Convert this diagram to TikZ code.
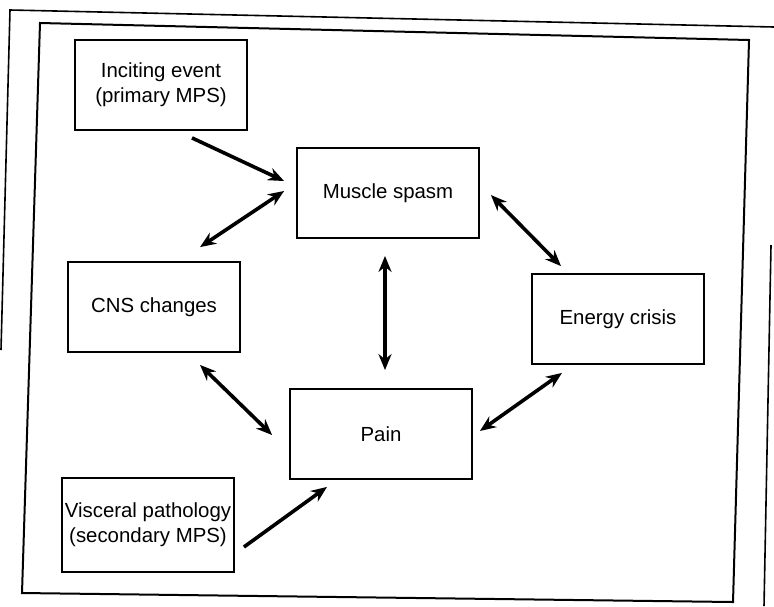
\documentclass[tikz,border=0pt]{standalone}
\usepackage{fontspec}
\setmainfont{Liberation Sans}
\usepackage{tikz}
\usetikzlibrary{positioning, arrows.meta, calc}

\begin{document}
\begin{tikzpicture}[x=0.5pt, y=-0.5pt, >={Stealth[length=8pt, width=6.5pt]},
    box/.style={draw, line width=0.9pt, inner sep=1pt, align=center,
      minimum width=86pt, minimum height=45pt,
      font=\fontsize{10.2}{12.4}\selectfont},
    link/.style={<->, line width=1.8pt},
    feed/.style={->, line width=1.8pt}]

  \useasboundingbox (0,0) rectangle (774,606);

  % frames of the scanned page
  \draw[line width=0.8pt] (1,350) -- (10,10) -- (774,27);
  \draw[line width=0.8pt] (771,245) -- (764,606);
  \draw[line width=1pt] (40,23) -- (749,40) -- (733,602) -- (22,593) -- cycle;

  % the six boxes
  \node[box]
    (inc) at (161,85)  {Inciting event\\(primary MPS)};
  \node[box, minimum width=91pt]
    (mus) at (388,193) {Muscle spasm};
  \node[box]
    (cns) at (154,307) {CNS changes};
  \node[box]
    (ene) at (618,319) {Energy crisis};
  \node[box, minimum width=91pt]
    (pain) at (381,434) {Pain};
  \node[box, minimum height=47pt]
    (vis) at (148,525) {Visceral pathology\\(secondary MPS)};

  \path ($(inc.south)+(31,7)$)   edge[feed] ($(mus.west)+(-12,-12)$)
        ($(mus.west)+(-12,-2)$)  edge[link] ($(cns.north)+(46,-14)$)
        ($(mus.east)+(11,2)$)    edge[link] ($(ene.north)+(-57,-7)$)
        ($(mus.south)+(-3,17)$)  edge[link] ($(pain.north)+(4,-18)$)
        ($(cns.south)+(46,12)$)  edge[link] ($(pain.west)+(-17,1)$)
        ($(ene.south)+(-56,8)$)  edge[link] ($(pain.east)+(7,-3)$)
        ($(vis.east)+(9,22)$)    edge[feed] ($(pain.south)+(-54,7)$);

\end{tikzpicture}
\end{document}
